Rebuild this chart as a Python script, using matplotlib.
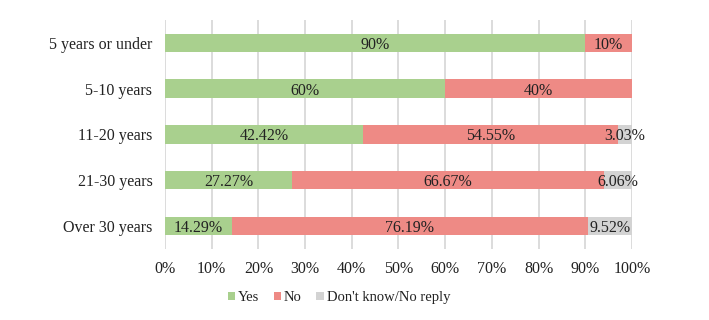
import matplotlib
matplotlib.use("Agg")
import matplotlib.pyplot as plt
import numpy as np

categories = ["5 years or under", "5-10 years", "11-20 years", "21-30 years", "Over 30 years"]
yes = [90, 60, 42.42, 27.27, 14.29]
no = [10, 40, 54.55, 66.67, 76.19]
dk = [0, 0, 3.03, 6.06, 9.52]
series_names = ["Yes", "No", "Don't know/No reply"]
colors = ["#A9D08E", "#EE8A85", "#D3D3D3"]
xticks = list(range(0, 101, 10))

FS = 11.5
plt.rcParams['font.family'] = ['Liberation Serif', 'DejaVu Serif']
fig = plt.figure(figsize=(7.09, 3.2), dpi=100)
ax = fig.add_axes([0.2327, 0.222, 0.6587, 0.716])

y = np.arange(len(categories))
left = np.zeros(len(categories))
for vals, name, c in zip([yes, no, dk], series_names, colors):
    vals = np.array(vals)
    ax.barh(y, vals, left=left, height=0.4, color=c, label=name, zorder=3)
    for yi, l, v in zip(y, left, vals):
        if v > 0:
            ax.text(l + v / 2, yi, f"{v:g}%", ha="center", va="center_baseline",
                    fontsize=FS, color="#222222", zorder=4)
    left = left + vals

ax.set_xlim(0, 100)
ax.set_ylim(len(categories) - 0.5, -0.5)
ax.set_yticks(y)
ax.set_yticklabels(categories, fontsize=FS, color="#222222")
ax.set_xticks(xticks)
ax.set_xticklabels([f"{t}%" for t in xticks], fontsize=FS, color="#222222")
ax.tick_params(axis="both", length=0)
ax.tick_params(axis="x", pad=9)
ax.tick_params(axis="y", pad=9)
ax.grid(axis="x", color="#D9D9D9", linewidth=1.3, zorder=0)
for s in ax.spines.values():
    s.set_visible(False)

leg = fig.legend(loc="center", bbox_to_anchor=(0.478, 0.07), ncol=3, frameon=False,
                 fontsize=10.5, handlelength=0.5, handleheight=0.5, handletextpad=0.2,
                 columnspacing=1.0)
for t in leg.get_texts():
    t.set_color("#222222")

fig.savefig("out.png", dpi=100)
